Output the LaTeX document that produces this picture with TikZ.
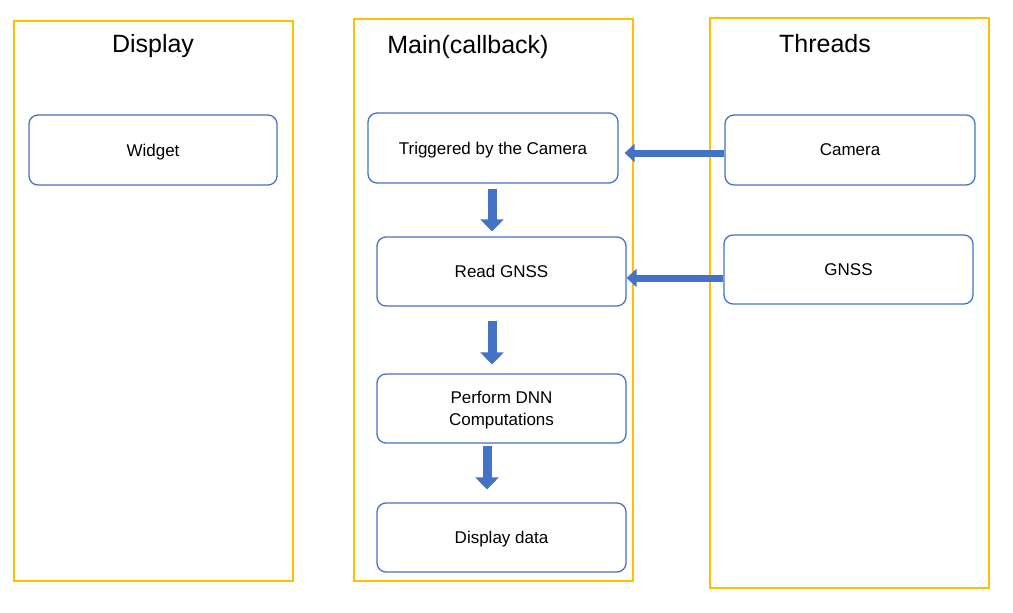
\documentclass[tikz,border=0pt]{standalone}
\usepackage{fontspec}
\setmainfont{Liberation Sans}
\usetikzlibrary{calc,positioning,arrows.meta}
\definecolor{frameorange}{HTML}{FFC000}
\definecolor{boxblue}{HTML}{4472C4}
\begin{document}
\begin{tikzpicture}[x=1pt,y=-1pt,
lane/.style = {draw=frameorange, line width=1.3pt, minimum width=279pt, inner sep=0pt},
task/.style = {draw=boxblue, line width=1.3pt, rounded corners=9pt, minimum width=249pt, minimum height=69pt, align=center, text depth=0pt, font=\fontsize{17}{22}\selectfont},
title/.style = {font=\fontsize{25}{30}\selectfont},
sidearrow/.style = {boxblue, line width=7pt, -{Triangle[width=18pt,length=10pt]}},
downarrow/.style = {boxblue, line width=9pt, -{Triangle[width=23pt,length=12pt]}},]
\useasboundingbox (0,0) rectangle (1013,613);
\node (disp) at (153.5,301)[lane,minimum height=560pt] {};
\node (main) at (493.5,300)[lane,minimum height=562pt] {};
\node (thr) at (849.5,303)[lane,minimum height=570pt] {};
\node (tdisp) at (153,46)[title] {Display};
\node (tmain) at (468,47)[title] {Main(callback)};
\node (tthr) at (825,44)[title] {Threads};
\node (widget) at (153,150)[task,minimum width=248pt,minimum height=70pt] {Widget};
\node (trig) at (493,148)[task,minimum width=250pt,minimum height=70pt] {Triggered by the Camera};
\node (read) at (501.5,271.5)[task] {Read GNSS};
\node (dnn) at (501.5,408.5)[task] {Perform DNN\\Computations};
\node (data) at (501.5,537.5)[task] {Display data};
\node (cam) at (850,150)[task,minimum width=250pt,minimum height=70pt] {Camera};
\node (gnss) at (848.5,269.5)[task] {GNSS};
\draw[sidearrow] ($(cam.west)+(0,3)$)--($(trig.east)+(6,5)$);
\draw[sidearrow] ($(gnss.west)+(0,8.5)$)--($(read.east)+(0,6.5)$);
\draw[downarrow] ($(trig.south)+(-1,5)$)--($(read.north)+(-9.5,-5)$);
\draw[downarrow] ($(read.south)+(-9.5,14)$)--($(dnn.north)+(-9.5,-9)$);
\draw[downarrow] ($(dnn.south)+(-14.5,2)$)--($(data.north)+(-14.5,-13)$);
\end{tikzpicture}
\end{document}
